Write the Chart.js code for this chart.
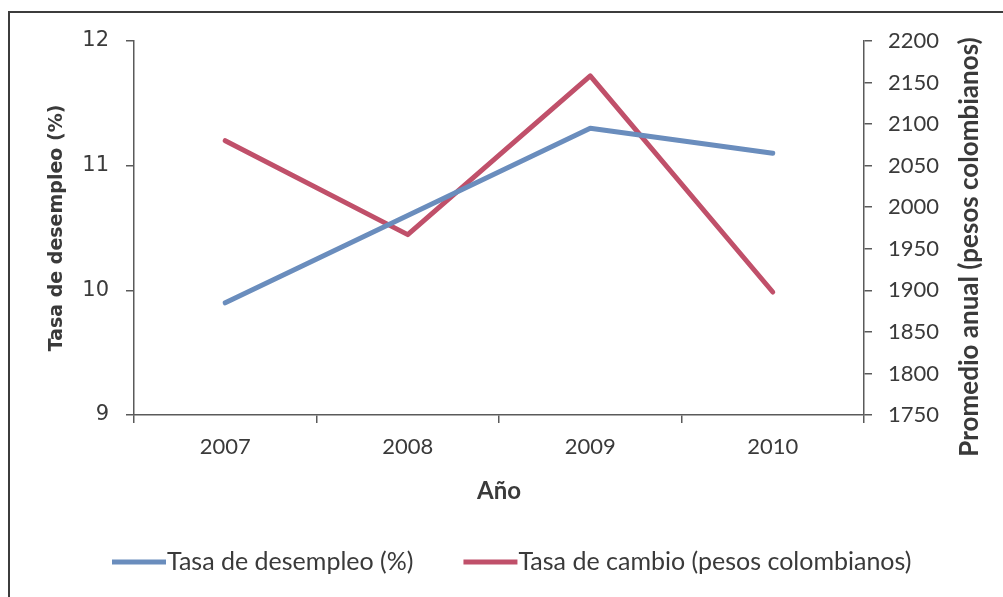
<!DOCTYPE html>
<html>
<head>
<meta charset="utf-8">
<script src="https://cdn.jsdelivr.net/npm/chart.js@4.4.0/dist/chart.umd.min.js"></script>
<style>
  html, body { margin: 0; padding: 0; background: #ffffff; }
  #wrap { width: 1003px; height: 597px; position: relative; }
</style>
</head>
<body>
<div id="wrap"><canvas id="chart" width="1003" height="597"></canvas></div>
<script>
// Categories and series
const years = ['2007', '2008', '2009', '2010'];
const desempleo = [9.9, 10.6, 11.3, 11.1];
const tasaCambio = [2080, 1967, 2158, 1898];
const seriesNames = ['Tasa de desempleo (%)', 'Tasa de cambio (pesos colombianos)'];
const seriesColors = ['#6a8dbd', '#c0506a'];

// Axis ranges and titles
const leftRange = [9, 12];
const leftStep = 1;
const rightRange = [1750, 2200];
const rightStep = 50;
const xTitle = 'Año';
const leftTitle = 'Tasa de desempleo (%)';
const rightTitle = 'Promedio anual (pesos colombianos)';

const axisColor = '#5a5a5a';
const textColor = '#3a3a3a';

// Outer frame (left and top edges of the chart box)
const framePlugin = {
  id: 'frame',
  beforeDraw(chart) {
    const ctx = chart.ctx;
    ctx.save();
    ctx.fillStyle = '#ffffff';
    ctx.fillRect(0, 0, chart.width, chart.height);
    ctx.strokeStyle = '#3c3c3c';
    ctx.lineWidth = 2;
    ctx.beginPath();
    ctx.moveTo(9, chart.height);
    ctx.lineTo(9, 12);
    ctx.lineTo(chart.width, 12);
    ctx.stroke();
    ctx.restore();
  }
};

// Secondary axis title, read bottom-to-top, and the legend row
const extrasPlugin = {
  id: 'extras',
  afterDraw(chart) {
    const ctx = chart.ctx;
    ctx.save();
    // right axis title
    ctx.translate(970, 247);
    ctx.rotate(-Math.PI / 2);
    ctx.font = 'bold 26px Lato';
    ctx.fillStyle = textColor;
    ctx.textAlign = 'center';
    ctx.textBaseline = 'middle';
    ctx.fillText(rightTitle, 0, 0);
    ctx.restore();

    // legend
    ctx.save();
    ctx.font = '25px Lato';
    ctx.textBaseline = 'middle';
    ctx.textAlign = 'left';
    let x = 112;
    const y = 562;
    chart.data.datasets.forEach((ds) => {
      ctx.strokeStyle = ds.borderColor;
      ctx.lineWidth = 5;
      ctx.beginPath();
      ctx.moveTo(x, y);
      ctx.lineTo(x + 54, y);
      ctx.stroke();
      x += 55;
      ctx.fillStyle = textColor;
      ctx.fillText(ds.label, x, y);
      x += ctx.measureText(ds.label).width + 50;
    });
    ctx.restore();
  }
};

const plainNumber = (v) => String(v);

new Chart(document.getElementById('chart'), {
  type: 'line',
  data: {
    labels: years,
    datasets: [
      {
        label: seriesNames[0],
        data: desempleo,
        yAxisID: 'y',
        borderColor: seriesColors[0],
        backgroundColor: seriesColors[0],
        borderWidth: 5,
        pointRadius: 0,
        tension: 0,
        borderJoinStyle: 'round',
        borderCapStyle: 'round'
      },
      {
        label: seriesNames[1],
        data: tasaCambio,
        yAxisID: 'y1',
        borderColor: seriesColors[1],
        backgroundColor: seriesColors[1],
        borderWidth: 5,
        pointRadius: 0,
        tension: 0,
        borderJoinStyle: 'round',
        borderCapStyle: 'round'
      }
    ]
  },
  options: {
    responsive: false,
    animation: false,
    devicePixelRatio: 1,
    layout: { padding: { left: 30, top: 41, right: 0, bottom: 0 } },
    plugins: {
      legend: { display: false },
      tooltip: { enabled: false }
    },
    scales: {
      x: {
        type: 'category',
        offset: true,
        grid: {
          display: true,
          offset: true,
          drawOnChartArea: false,
          drawTicks: true,
          tickLength: 8,
          color: axisColor,
          tickColor: axisColor,
          lineWidth: 1.5
        },
        border: { display: true, color: axisColor, width: 1.5 },
        ticks: {
          font: { family: 'Lato', size: 22 },
          color: textColor,
          padding: 11,
          maxRotation: 0
        },
        title: {
          display: true,
          text: xTitle,
          font: { family: 'Lato', size: 24, weight: 'bold' },
          color: textColor,
          padding: { top: 0, bottom: 91.6 }
        },
        afterFit(scale) { scale.height = 182; }
      },
      y: {
        position: 'left',
        min: leftRange[0],
        max: leftRange[1],
        grid: {
          display: true,
          drawOnChartArea: false,
          drawTicks: true,
          tickLength: 8,
          color: axisColor,
          tickColor: axisColor,
          lineWidth: 1.5
        },
        border: { display: true, color: axisColor, width: 1.5 },
        ticks: {
          stepSize: leftStep,
          font: { family: 'DejaVu Sans', size: 21 },
          color: textColor,
          padding: 17,
          callback: plainNumber
        },
        title: {
          display: true,
          text: leftTitle,
          font: { family: 'DejaVu Sans', size: 19, weight: 'bold' },
          color: textColor,
          padding: { top: 15.6, bottom: 0 }
        },
        afterFit(scale) { scale.width = 104; }
      },
      y1: {
        position: 'right',
        min: rightRange[0],
        max: rightRange[1],
        grid: {
          display: true,
          drawOnChartArea: false,
          drawTicks: true,
          tickLength: 8,
          color: axisColor,
          tickColor: axisColor,
          lineWidth: 1.5
        },
        border: { display: true, color: axisColor, width: 1.5 },
        ticks: {
          stepSize: rightStep,
          font: { family: 'Lato', size: 22 },
          color: textColor,
          padding: 16,
          callback: plainNumber
        },
        afterFit(scale) { scale.width = 139; }
      }
    }
  },
  plugins: [framePlugin, extrasPlugin]
});
</script>
</body>
</html>
